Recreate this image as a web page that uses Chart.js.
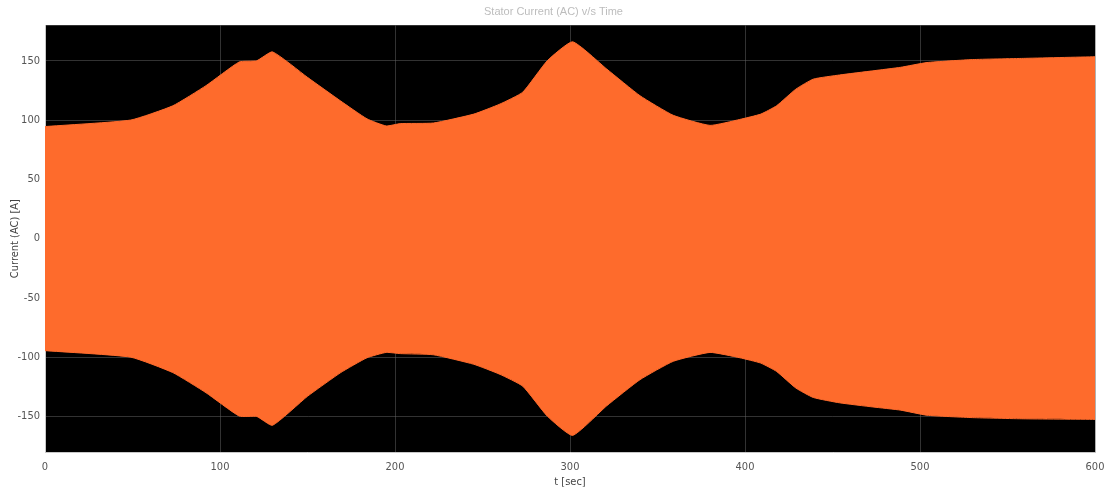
<!DOCTYPE html>
<html>
<head>
<meta charset="utf-8">
<title>Stator Current (AC) v/s Time</title>
<script src="https://cdn.jsdelivr.net/npm/chart.js@4/dist/chart.umd.min.js"></script>
<style>
  html, body { margin: 0; padding: 0; background: #ffffff; }
  #wrap { width: 1107px; height: 497px; }
</style>
</head>
<body>
<div id="wrap"><canvas id="c" width="1107" height="497"></canvas></div>
<script>
// Envelope of the stator current waveform: time [s] and the peak values [A]
const upperTime = [0, 49, 73, 92, 111, 121, 130, 150, 169, 184, 195, 203, 222, 245, 260, 273, 287, 301.5, 321, 340, 359, 380, 397, 409, 418, 429, 439, 454, 473, 489, 504, 530, 559, 600];
const upperPeak = [94.5, 100, 112, 129, 149, 150, 157.5, 136, 116, 101, 95, 97, 97.5, 105, 113.5, 123.5, 150, 166, 143, 120.5, 104, 95.5, 100.5, 105, 112, 126, 134.5, 138, 141.5, 144.5, 148.5, 151, 152, 153.4];

const lowerTime = [0, 49, 73, 92, 111, 121, 130, 150, 169, 184, 195, 203, 222, 245, 260, 273, 287, 301.5, 321, 340, 359, 380, 397, 409, 418, 429, 439, 454, 473, 489, 504, 530, 559, 600];
const lowerPeak = [-94.5, -100, -113, -130, -149.7, -150, -157.5, -133, -113, -100.5, -96, -97, -98, -106, -114.5, -124.5, -149.7, -166, -141, -119, -103.5, -96, -100.5, -105, -112, -126, -134, -138.5, -142, -144.7, -149, -151, -152, -152.5];

const xTicks = [0, 100, 200, 300, 400, 500, 600];
const yTicks = [-150, -100, -50, 0, 50, 100, 150];

const ORANGE = '#fe6b2c';

const toPoints = (xs, ys) => xs.map((x, i) => ({ x: x, y: ys[i] }));

// paints the black plotting area before the grid and the envelope
const plotBackground = {
  id: 'plotBackground',
  beforeDraw(chart) {
    const { ctx, chartArea: a } = chart;
    ctx.save();
    ctx.fillStyle = '#000000';
    ctx.fillRect(a.left, a.top, a.right - a.left, a.bottom - a.top);
    ctx.restore();
  }
};

const tickFont = { family: '"Liberation Sans Narrow", "DejaVu Sans Condensed", Arial, sans-serif', size: 11 };

new Chart(document.getElementById('c'), {
  type: 'line',
  data: {
    datasets: [
      {
        label: 'Upper envelope',
        data: toPoints(upperTime, upperPeak),
        borderColor: ORANGE,
        borderWidth: 1,
        backgroundColor: ORANGE,
        pointRadius: 0,
        tension: 0.15,
        fill: '+1'
      },
      {
        label: 'Lower envelope',
        data: toPoints(lowerTime, lowerPeak),
        borderColor: ORANGE,
        borderWidth: 1,
        backgroundColor: ORANGE,
        pointRadius: 0,
        tension: 0.15,
        fill: false
      }
    ]
  },
  options: {
    responsive: false,
    animation: false,
    events: [],
    layout: { padding: { left: 0, right: 0, top: 0, bottom: 0 } },
    plugins: {
      legend: { display: false },
      tooltip: { enabled: false },
      title: {
        display: true,
        text: 'Stator Current (AC) v/s Time',
        color: '#bdbdbd',
        font: { family: '"Liberation Sans Narrow", Arial, sans-serif', size: 11, weight: 'normal' },
        padding: { top: 5, bottom: 7 }
      }
    },
    scales: {
      x: {
        type: 'linear',
        min: 0,
        max: 600,
        afterBuildTicks: s => { s.ticks = xTicks.map(v => ({ value: v })); },
        afterFit: s => { s.height = 45; s.paddingLeft = 0; s.paddingRight = 12; },
        grid: { color: 'rgba(100,100,100,0.5)', lineWidth: 1, drawTicks: false },
        border: { color: '#c8c8c8', width: 1 },
        ticks: { color: '#555555', font: tickFont, padding: 9, maxRotation: 0 },
        title: {
          display: true,
          text: 't [sec]',
          color: '#444444',
          font: tickFont,
          padding: { top: 0, bottom: 8 }
        }
      },
      y: {
        type: 'linear',
        min: -180,
        max: 180,
        afterBuildTicks: s => { s.ticks = yTicks.map(v => ({ value: v })); },
        afterFit: s => { s.width = 45; },
        grid: { color: 'rgba(100,100,100,0.5)', lineWidth: 1, drawTicks: false },
        border: { color: '#c8c8c8', width: 1 },
        ticks: { color: '#555555', font: tickFont, padding: 5 },
        title: {
          display: true,
          text: 'Current (AC) [A]',
          color: '#444444',
          font: tickFont,
          padding: { top: 9, bottom: 0 }
        }
      }
    }
  },
  plugins: [plotBackground]
});
</script>
</body>
</html>
